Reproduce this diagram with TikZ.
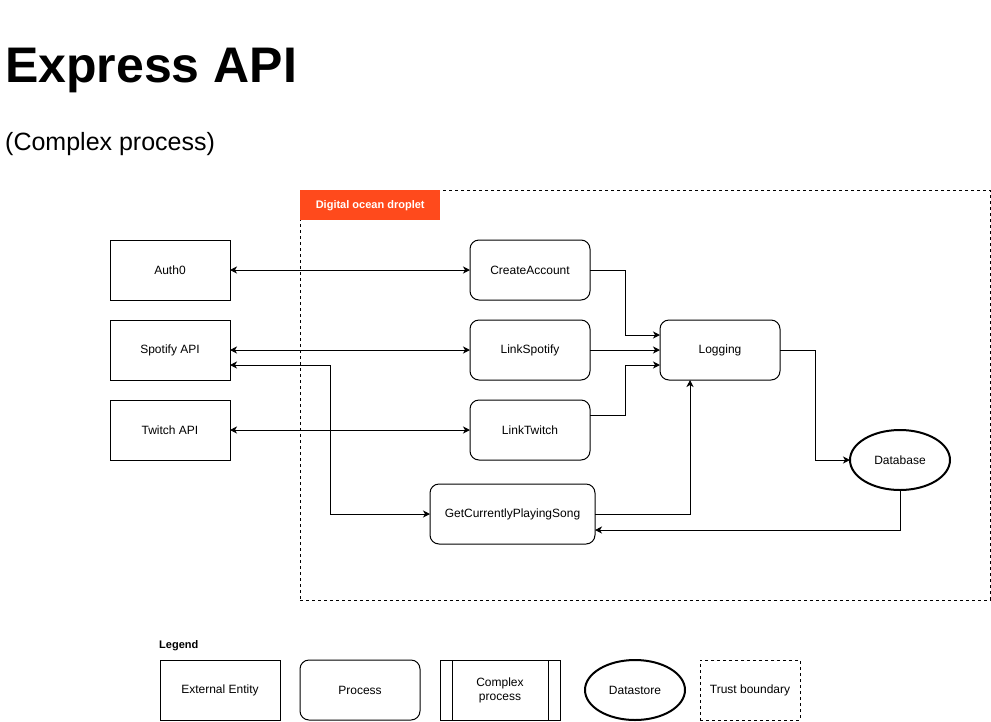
\documentclass[tikz,border=0pt]{standalone}
\usepackage{fontspec}
\setmainfont{Liberation Sans}
\usetikzlibrary{positioning,arrows.meta,shapes.geometric}

\definecolor{dropletred}{HTML}{FF4A1C}
\newcommand{\boxfont}{\fontsize{12}{14}\selectfont}
\newcommand{\tagfont}{\fontsize{11}{13}\selectfont}

\tikzset{
    entity/.style={draw, line width=1pt, minimum width=120pt, minimum height=60pt, inner sep=0pt, outer sep=0pt, font=\boxfont},
    process/.style={entity, rounded corners=9pt},
    store/.style={draw, ellipse, line width=2pt, minimum width=100pt, minimum height=60pt, inner sep=0pt, outer sep=0pt, font=\boxfont},
    trust/.style={draw, line width=1pt, dash pattern=on 3pt off 3pt, inner sep=0pt, outer sep=0pt, font=\boxfont},
    tag/.style={fill=dropletred, text=white, minimum width=140pt, minimum height=30pt, inner sep=0pt, font=\bfseries\tagfont},
    flow/.style={line width=1pt, ->, >={Stealth[length=7pt,width=7pt,inset=2pt]}},
    bothflow/.style={flow, <->},
}

\begin{document}
\begin{tikzpicture}[x=1pt, y=-1pt]
    \useasboundingbox (0,0) rectangle (991,721);

    \node[anchor=base west, inner sep=0pt, font=\bfseries\fontsize{50}{60}\selectfont] (title) at (5,82) {Express API};
    \node[anchor=base west, inner sep=0pt, font=\fontsize{25}{30}\selectfont] (sub) at (5,150) {(Complex process)};

    \node[trust, minimum width=690pt, minimum height=410pt, anchor=north west] (tb) at (300,190) {};
    \node[tag, anchor=north west] (tbl) at (tb.north west) {Digital ocean droplet};

    \node[entity] (auth) at (170,270) {Auth0};
    \node[entity, below=20pt of auth] (spot) {Spotify API};
    \node[entity, below=20pt of spot] (twitch) {Twitch API};
    \node[process, right=240pt of auth] (create) {CreateAccount};
    \node[process, right=240pt of spot] (linksp) {LinkSpotify};
    \node[process, right=240pt of twitch] (linktw) {LinkTwitch};
    \node[process, right=70pt of linksp] (log) {Logging};
    \node[store] (db) at (900,460) {Database};
    \node[process, minimum width=165pt] (song) at (512.5,514) {GetCurrentlyPlayingSong};

    \draw[bothflow] (auth) -- (create);
    \draw[bothflow] (spot) -- (linksp);
    \draw[bothflow] (twitch) -- (linktw);
    \draw[bothflow] ([yshift=-15pt]spot.east) -- ++(100,0) |- (song.west);
    \draw[flow] (create.east) -- ++(35,0) |- ([yshift=15pt]log.west);
    \draw[flow] (linksp) -- (log);
    \draw[flow] ([yshift=15pt]linktw.east) -- ++(35,0) |- ([yshift=-15pt]log.west);
    \draw[flow] (song.east) -| ([xshift=-30pt]log.south);
    \draw[flow] (log.east) -- ++(35,0) |- (db.west);
    \draw[flow] (db.south) |- ([yshift=-16pt]song.east);

    \node[anchor=west, inner sep=0pt, font=\bfseries\tagfont] (leg) at (159,646) {Legend};
    \node[entity] (lent) at (220,690) {External Entity};
    \node[process, right=20pt of lent] (lproc) {Process};
    \node[entity, right=20pt of lproc, align=center] (lcomp) {Complex\\process};
    \draw[line width=1pt] ([xshift=12pt]lcomp.north west) -- ([xshift=12pt]lcomp.south west)
        ([xshift=-12pt]lcomp.north east) -- ([xshift=-12pt]lcomp.south east);
    \node[store, right=25pt of lcomp] (lds) {Datastore};
    \node[trust, minimum width=100pt, minimum height=60pt, right=15pt of lds] (ltb) {Trust boundary};
\end{tikzpicture}
\end{document}
